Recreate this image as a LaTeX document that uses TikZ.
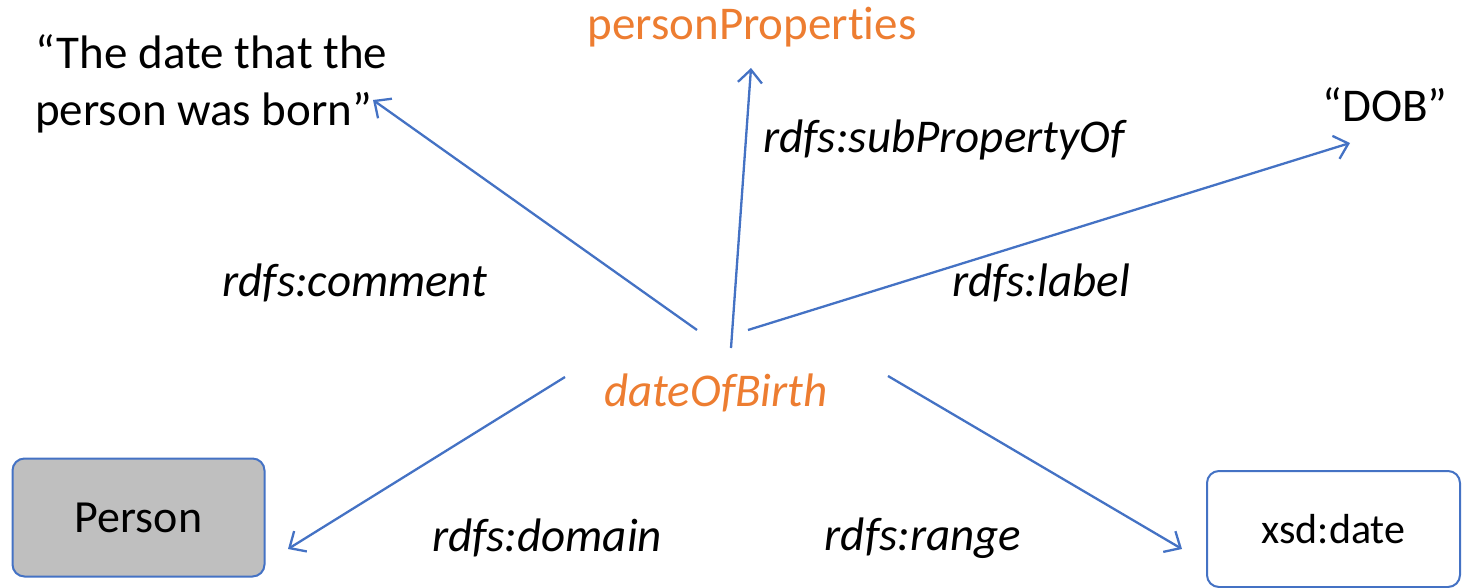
\documentclass[tikz,border=0pt]{standalone}
\usepackage{fontspec}
\setmainfont[Ligatures=NoCommon]{Carlito}
\usetikzlibrary{arrows.meta}
\definecolor{linkblue}{HTML}{4472C4}
\definecolor{accent}{HTML}{ED7D31}
\definecolor{boxgray}{HTML}{BFBFBF}
\begin{document}
\begin{tikzpicture}[x=1pt,y=-1pt,
  txt/.style={inner sep=0pt,font=\fontsize{47}{57}\selectfont},
  prop/.style={txt,font=\fontsize{47}{57}\selectfont\itshape},
  term/.style={txt,text=accent},
  link/.style={draw=linkblue,line width=2.3pt,-{Straight Barb[length=13pt,width=24pt,line width=2.3pt]}},
  classbox/.style={draw=linkblue,line width=2pt,rounded corners=12pt,minimum width=252pt,minimum height=118pt,inner sep=0pt}
]
\useasboundingbox (0,0) rectangle (1462,588);

% resources (kern keeps the t and i apart)
\node[term] (parent) at (752,27) {personPropert\kern0pt ies};
\node[term,font=\fontsize{47}{57}\selectfont\itshape] (prop) at (716,393) {dateOfBirth};
\node[txt,align=left,anchor=west] (comment) at (35,84) {“The date that the\\person was born”};
\node[txt] (dob) at (1385,105) {“DOB”};
\node[classbox,fill=boxgray,font=\fontsize{46}{55}\selectfont] (person) at (138.5,517.5) {Person};
\node[classbox,fill=white,minimum width=253pt,minimum height=116pt,font=\fontsize{42}{50}\selectfont] (date) at (1333.5,529) {xsd:date};

% connector end points
\coordinate (c0) at (697,330);
\coordinate (c1) at (373,100);
\coordinate (s0) at (731,348);
\coordinate (s1) at (751,68);
\coordinate (l0) at (748,330);
\coordinate (l1) at (1350,143);
\coordinate (d0) at (565,377);
\coordinate (d1) at (288,549);
\coordinate (r0) at (888,376);
\coordinate (r1) at (1182,549);

\draw[link] (c0) -- (c1);
\draw[link] (s0) -- (s1);
\draw[link] (l0) -- (l1);
\draw[link] (d0) -- (d1);
\draw[link] (r0) -- (r1);

% property labels
\node[prop] (lsub) at (944,140) {rdfs:subPropertyOf};
\node[prop] (lcom) at (355,283) {rdfs:comment};
\node[prop] (llab) at (1041,283) {rdfs:label};
\node[prop] (ldom) at (547,538) {rdfs:domain};
\node[prop] (lran) at (923,538) {rdfs:range};
\end{tikzpicture}
\end{document}
